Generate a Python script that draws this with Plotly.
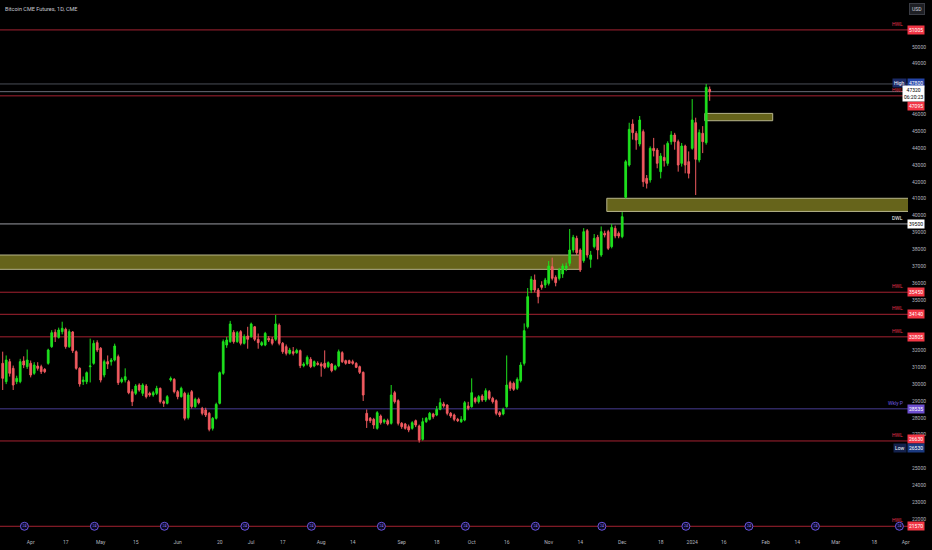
import plotly.graph_objects as go
import pandas as pd

# ---------------- data ----------------
holidays = ["2023-05-29", "2023-06-19", "2023-07-04", "2023-09-04", "2023-11-23",
            "2023-12-25", "2024-01-01", "2024-01-15", "2024-02-19", "2024-03-29"]
trading_days = [d.strftime("%Y-%m-%d") for d in pd.bdate_range("2023-03-22", "2024-04-05")
                if d.strftime("%Y-%m-%d") not in holidays]
day_index = {d: i for i, d in enumerate(trading_days)}

opens = [31233, 30146, 31332, 30936, 30146, 30146, 31371, 31035, 31233, 30640,
         31075, 31035, 30877, 31233, 32221, 33072, 32775, 33111, 33250, 32221,
         33092, 31925, 30936, 30146, 30146, 31035, 31233, 32459, 32122, 30541,
         31332, 31332, 31430, 31629, 30146, 30245, 30146, 29552, 29453, 29948,
         29453, 29889, 29453, 29355, 29453, 29751, 28959, 28860, 30250, 30284,
         29552, 29256, 29453, 28010, 29552, 28663, 29098, 28564, 28465, 28268,
         27378, 27971, 28860, 30640, 32320, 32518, 33072, 32518, 33111, 32419,
         32854, 32815, 33400, 32657, 32320, 32320, 32716, 32657, 32657, 33500,
         32419, 32221, 31826, 31925, 31860, 31984, 31095, 31193, 31470, 31075,
         31233, 31193, 31233, 31035, 31193, 30877, 31075, 31866, 31391, 31391,
         31332, 31233, 31035, 30699, 28268, 27971, 27912, 27378, 28109, 27754,
         27833, 27674, 29493, 29019, 27674, 27635, 27477, 27378, 27833, 27516,
         26726, 27773, 27912, 28228, 28169, 28505, 28821, 28762, 28268, 28169,
         27912, 27773, 27872, 28702, 28663, 29157, 28960, 29296, 29058, 29553,
         29157, 29019, 28307, 28228, 28663, 30086, 30047, 29750, 30205, 31233,
         33400, 35581, 36174, 35581, 35878, 35878, 35977, 36965, 36332, 36273,
         36530, 36866, 37163, 37954, 38646, 37954, 37321, 39100, 37400, 38152,
         38705, 37657, 38942, 39041, 38152, 39238, 38942, 38744, 41076, 42994,
         45425, 44872, 44239, 44971, 42203, 42104, 43982, 43883, 42598, 43448,
         43093, 44378, 44773, 44378, 43093, 44121, 43191, 43982, 45504, 43290,
         44872, 44318, 47481]
closes = [30343, 31430, 30640, 29948, 30343, 31332, 31134, 31430, 30541, 31134,
          30936, 30738, 30738, 32024, 33052, 32815, 33210, 33309, 32221, 33111,
          31984, 30936, 30007, 30245, 30679, 31075, 32419, 32024, 30245, 31332,
          31193, 31430, 32261, 30087, 30284, 30442, 29493, 28959, 29889, 29651,
          29948, 29256, 29355, 29493, 29751, 28959, 28860, 29256, 30330, 29552,
          29256, 29751, 27971, 29355, 28663, 29098, 28900, 28268, 28169, 27318,
          27971, 28801, 30679, 32518, 32617, 33566, 32518, 33052, 32419, 32815,
          32657, 33566, 32657, 32459, 32459, 33013, 32617, 32419, 33566, 32419,
          31925, 31826, 32024, 31826, 32000, 31095, 31193, 31589, 31035, 31332,
          31174, 31075, 30996, 31273, 30798, 31075, 31925, 31332, 31233, 31233,
          31233, 30996, 30699, 29355, 27833, 27833, 27576, 28307, 27714, 27872,
          27635, 29355, 28960, 27674, 27477, 27378, 27279, 27714, 27576, 26686,
          27773, 27971, 28268, 28070, 28505, 28900, 28702, 28268, 28109, 27912,
          27833, 27912, 28900, 28564, 29493, 28960, 29256, 29058, 29612, 29157,
          28960, 28268, 28169, 28505, 29948, 29750, 29691, 30284, 31134, 33170,
          35186, 36214, 35581, 35186, 35739, 36174, 37005, 36273, 36016, 36767,
          37005, 37005, 37954, 38705, 37795, 36767, 39041, 37657, 37657, 38646,
          37954, 39041, 38844, 38053, 39298, 38784, 38784, 39930, 43191, 45109,
          44911, 44476, 45663, 42005, 41906, 43982, 43844, 43093, 43527, 43251,
          44279, 44773, 44378, 42994, 44121, 42994, 42499, 45663, 43330, 44911,
          44378, 47600, 47343]
highs = [31925, 31700, 31500, 31100, 30500, 31500, 31650, 32050, 31400, 31300,
         31300, 31150, 30950, 32100, 33200, 33250, 33350, 33700, 33350, 33250,
         33150, 32000, 31000, 30450, 30750, 32700, 32600, 32600, 32200, 31450,
         31700, 31550, 32400, 31750, 30400, 30936, 30250, 29700, 30000, 30050,
         30050, 30000, 29550, 29600, 29900, 29800, 29050, 29350, 30450, 30350,
         29650, 29850, 29550, 29500, 29650, 29200, 29200, 28650, 28600, 28350,
         28050, 28900, 30750, 32650, 32800, 33750, 33200, 33150, 33200, 32950,
         33400, 33650, 33450, 33000, 32550, 33100, 32850, 32800, 34100, 33600,
         32500, 32350, 32150, 32200, 32100, 32050, 31300, 31700, 31600, 31400,
         31350, 31300, 32000, 31350, 31250, 31150, 32050, 31950, 31450, 31450,
         31450, 31300, 31100, 30750, 28500, 28050, 28000, 28400, 28200, 27950,
         27950, 29948, 29600, 29100, 27750, 27700, 27600, 27800, 27900, 27600,
         28000, 28050, 28350, 28300, 28700, 29157, 28950, 28800, 28350, 28250,
         28000, 28100, 29000, 28950, 30343, 29250, 29350, 29400, 29750, 29650,
         29250, 29100, 28400, 28600, 31700, 30200, 30150, 30400, 31300, 33600,
         35700, 36400, 36500, 35700, 36100, 36300, 37300, 37500, 36450, 36900,
         37150, 37200, 39200, 38850, 38800, 38050, 39250, 39200, 37900, 38900,
         38850, 39350, 39100, 39150, 39500, 39400, 39050, 40200, 43300, 45500,
         45700, 45000, 45900, 45100, 42400, 44100, 44600, 44000, 43700, 44200,
         44400, 45000, 44900, 44500, 44300, 44200, 43800, 46900, 45800, 45100,
         45300, 47800, 47650]
lows = [29651, 30000, 30450, 29651, 30000, 30050, 30950, 30900, 30400, 30550,
        30800, 30600, 30650, 31150, 32150, 32500, 32700, 32950, 32100, 32150,
        31850, 30850, 29850, 29950, 30000, 30100, 31150, 31900, 30100, 30400,
        30900, 31100, 31350, 29950, 30050, 30100, 29400, 28700, 29350, 29550,
        29300, 29150, 29250, 29250, 29350, 28850, 28650, 28800, 30150, 29450,
        29100, 29200, 27850, 27900, 28550, 28600, 28800, 28150, 28050, 27200,
        27250, 27900, 28800, 30550, 32150, 32450, 32400, 32450, 32300, 32350,
        32100, 32750, 32550, 32100, 32250, 32250, 32500, 32300, 32550, 32300,
        31800, 31700, 31750, 31700, 31800, 30950, 31000, 31100, 30950, 31000,
        31100, 30440, 30900, 30950, 30700, 30800, 31000, 31250, 31150, 31200,
        31150, 30950, 30600, 29000, 27400, 27700, 27350, 27300, 27600, 27650,
        27550, 27600, 28850, 27550, 27350, 27300, 27150, 27300, 27450, 26530,
        26650, 27700, 27850, 27950, 28100, 28450, 28600, 28150, 28000, 27800,
        27750, 27700, 27800, 28450, 28600, 28850, 28850, 28950, 28950, 29050,
        28850, 28150, 28050, 28150, 28600, 29600, 29600, 29650, 30100, 31100,
        33300, 35400, 35450, 34790, 35600, 35700, 35850, 36150, 35800, 36150,
        36300, 36700, 37000, 37800, 37650, 36650, 37200, 37500, 36900, 38050,
        37400, 37550, 38700, 37950, 38050, 38650, 38650, 38650, 41000, 42900,
        44500, 43900, 44100, 41700, 41600, 41950, 43500, 42800, 42200, 42900,
        42950, 44200, 43900, 42600, 42900, 42500, 42200, 43900, 41214, 43150,
        43700, 44200, 46800]
bar_dates = trading_days[:len(opens)]

tick_dates = ["2023-04-03", "2023-04-17", "2023-05-01", "2023-05-15", "2023-06-01",
              "2023-06-20", "2023-07-03", "2023-07-17", "2023-08-01", "2023-08-14",
              "2023-09-01", "2023-09-18", "2023-10-02", "2023-10-16", "2023-11-01",
              "2023-11-14", "2023-12-01", "2023-12-18", "2024-01-02", "2024-01-16",
              "2024-02-01", "2024-02-14", "2024-03-01", "2024-03-18", "2024-04-01"]
tick_text = ["Apr", "17", "May", "15", "Jun", "20", "Jul", "17", "Aug", "14", "Sep", "18",
             "Oct", "16", "Nov", "14", "Dec", "18", "2024", "16", "Feb", "14", "Mar", "18", "Apr"]

# price-scale tick labels that are visible (others sit under the level labels)
price_ticks = [22000, 23000, 24000, 25000, 27000, 28000, 29000, 30000, 31000, 32000,
               35000, 36000, 37000, 38000, 39000, 40000, 41000, 42000, 43000, 44000,
               45000, 46000, 49000, 50000]

rollover_dates = ["2023-03-31", "2023-04-28", "2023-05-26", "2023-06-30", "2023-07-28",
                  "2023-08-25", "2023-09-29", "2023-10-27", "2023-11-24", "2023-12-29",
                  "2024-01-26", "2024-02-23", "2024-03-28"]

level_prices = [51005, 47095, 35450, 34140, 32805, 26630, 21570]
level_tags = ["HWL", "HWL", "HWL", "HWL", "HWL", "HWL", "HWL"]
dwl_price = 39500
weekly_pivot = 28535
high_price = 47800
low_price = 26530
last_price = 47343
last_label = "47320"
countdown = "06:20:23"

zone_starts = ["2024-01-08", "2023-11-27", "2023-03-20"]
zone_ends = ["2024-02-05", None, "2023-11-14"]
zone_tops = [46054, 41020, 37657]
zone_bottoms = [45620, 40240, 36807]

# ---------------- figure ----------------
PLOT_W = 908
BAR_PX = 3.5
x_left = -2.7 / BAR_PX
x_right = x_left + PLOT_W / BAR_PX

xs = [day_index[d] for d in bar_dates]
GREEN = "#1ee01e"
RED = "#f05a5f"

fig = go.Figure()
fig.add_trace(go.Candlestick(
    x=xs, open=opens, high=highs, low=lows, close=closes,
    increasing=dict(line=dict(color=GREEN, width=1), fillcolor=GREEN),
    decreasing=dict(line=dict(color=RED, width=1), fillcolor=RED),
    whiskerwidth=0, showlegend=False, hoverinfo="skip"))

shapes = []
red_line = "rgba(220,45,65,0.75)"
for p in level_prices:
    shapes.append(dict(type="line", xref="paper", x0=0, x1=1, yref="y", y0=p, y1=p,
                       line=dict(color=red_line, width=1), layer="below"))
shapes.append(dict(type="line", xref="paper", x0=0, x1=1, yref="y", y0=high_price, y1=high_price,
                   line=dict(color="#4a4d57", width=1), layer="below"))
shapes.append(dict(type="line", xref="paper", x0=0, x1=1, yref="y", y0=last_price, y1=last_price,
                   line=dict(color="#6a6d78", width=1), layer="below"))
shapes.append(dict(type="line", xref="paper", x0=0, x1=1, yref="y", y0=dwl_price, y1=dwl_price,
                   line=dict(color="#9a9ca3", width=1), layer="below"))
shapes.append(dict(type="line", xref="paper", x0=0, x1=1, yref="y", y0=weekly_pivot, y1=weekly_pivot,
                   line=dict(color="rgba(100,85,210,0.7)", width=1), layer="below"))
for s, e, t, b in zip(zone_starts, zone_ends, zone_tops, zone_bottoms):
    x0 = day_index[s] if s in day_index else x_left - 2
    x1 = day_index[e] if e is not None else x_right + 5
    shapes.append(dict(type="rect", xref="x", yref="y", x0=x0 - 0.4, x1=x1, y0=b, y1=t,
                       fillcolor="rgba(120,118,32,0.85)", line=dict(color="#b5b38a", width=1),
                       layer="below"))
fig.update_layout(shapes=shapes)

fig.add_trace(go.Scatter(
    x=[day_index[d] - 0.8 for d in rollover_dates], y=[level_prices[-1]] * len(rollover_dates),
    mode="markers+text", text=["24"] * len(rollover_dates),
    textfont=dict(size=3.5, color="#8f7cff"), textposition="middle center",
    marker=dict(symbol="circle", size=8, color="#0d0a24", line=dict(color="#6a55e0", width=1)),
    showlegend=False, hoverinfo="skip", cliponaxis=False))

ann = []
FONT = "Roboto, DejaVu Sans, sans-serif"


def px(xpix):
    return xpix / PLOT_W


def box(text, price, bg, fg="#ffffff", xr=925, yshift=0):
    ann.append(dict(xref="paper", yref="y", x=px(xr), y=price, xanchor="right", yanchor="middle",
                    text=text, showarrow=False, bgcolor=bg, borderpad=1, yshift=yshift,
                    font=dict(size=5, color=fg, family=FONT)))


def tag(text, price, color, xr=905, yshift=6):
    ann.append(dict(xref="paper", yref="y", x=px(xr), y=price, xanchor="right", yanchor="middle",
                    text=text, showarrow=False, yshift=yshift,
                    font=dict(size=5, color=color, family=FONT)))


RED_BOX = "#f23645"
shifts = {47095: -10, 26630: 2}
for p, t in zip(level_prices, level_tags):
    tag(t, p, "#e0304a")
    box(str(p), p, RED_BOX, yshift=shifts.get(p, 0))
box(str(high_price), high_price, "#2445a8", yshift=1)
box("High", high_price, "#1b2a66", xr=907, yshift=1)
box(last_label + "<br>" + countdown, last_price, "#ffffff", fg="#000000", yshift=-2)
tag("DWL", dwl_price, "#ffffff")
box(str(dwl_price), dwl_price, "#ffffff", fg="#000000")
tag("Wkly P", weekly_pivot, "#6f5ce0")
box(str(weekly_pivot), weekly_pivot, "#6e4fd0")
box(str(low_price), low_price, "#1b3a80", yshift=-5)
box("Low", low_price, "#14224d", xr=907, yshift=-5)

ann.append(dict(xref="paper", yref="paper", x=px(3), y=1, xanchor="left", yanchor="top",
                yshift=-4, text="Bitcoin CME Futures, 1D, CME", showarrow=False,
                font=dict(size=5.5, color="#c8cad2", family=FONT)))
ann.append(dict(xref="paper", yref="paper", x=px(925), y=1, xanchor="right", yanchor="top",
                yshift=-3, text="USD", showarrow=False, bgcolor="#1e1f24", bordercolor="#3a3c44",
                borderwidth=1, borderpad=2, font=dict(size=5, color="#d1d4dc", family=FONT)))
fig.update_layout(annotations=ann)

fig.update_layout(
    width=932, height=550,
    margin=dict(l=0, r=24, t=0, b=18),
    paper_bgcolor="#000000", plot_bgcolor="#000000",
    font=dict(family=FONT, size=5, color="#b2b5be"),
    xaxis=dict(range=[x_left, x_right], rangeslider=dict(visible=False), showgrid=False,
               zeroline=False, showline=False, tickmode="array",
               tickvals=[day_index[d] for d in tick_dates], ticktext=tick_text,
               tickfont=dict(size=5, color="#b2b5be"), ticks="", ticklen=0,
               ticklabelstandoff=6),
    yaxis=dict(side="right", range=[21231, 52779], tickmode="array", tickvals=price_ticks,
               ticktext=[str(v) for v in price_ticks], showgrid=False,
               zeroline=False, showline=False,
               tickfont=dict(size=5, color="#b2b5be"), ticks="", ticklabelstandoff=3),
)

fig.write_html("out.html", config={"displayModeBar": False},
               post_script="document.body.style.margin='0';document.body.style.background='#000';")
